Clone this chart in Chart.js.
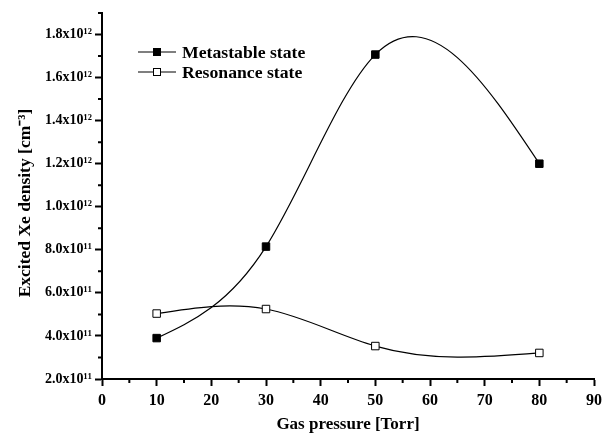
<!DOCTYPE html>
<html>
<head>
<meta charset="utf-8">
<script src="https://cdn.jsdelivr.net/npm/chart.js@4"></script>
<style>
  html, body { margin: 0; padding: 0; background: #fff; }
</style>
</head>
<body>
<canvas id="xeChart" width="612" height="435"></canvas>
<script>
// Gas pressure (Torr)
const pressure = [10, 30, 50, 80];
// Excited Xe density (cm^-3)
const metastable = [3.9e11, 8.15e11, 1.707e12, 1.2e12];
const resonance = [5.04e11, 5.25e11, 3.53e11, 3.21e11];
const seriesNames = ['Metastable state', 'Resonance state'];

// Axis ticks
const xTicks = [0, 10, 20, 30, 40, 50, 60, 70, 80, 90];
const xMinorTicks = [5, 15, 25, 35, 45, 55, 65, 75, 85];
const yTicks = [2e11, 4e11, 6e11, 8e11, 1.0e12, 1.2e12, 1.4e12, 1.6e12, 1.8e12];
const yTickLabels = ['2.0x10¹¹', '4.0x10¹¹', '6.0x10¹¹', '8.0x10¹¹', '1.0x10¹²',
  '1.2x10¹²', '1.4x10¹²', '1.6x10¹²', '1.8x10¹²'];
const yMinorTicks = [3e11, 5e11, 7e11, 9e11, 1.1e12, 1.3e12, 1.5e12, 1.7e12, 1.9e12];
const yTitle = 'Excited Xe density [cm⁻³]';

const serif = "'Liberation Serif', 'Times New Roman', serif";

function toPoints(xs, ys) {
  return xs.map((x, i) => ({ x: x, y: ys[i] }));
}

// Replace Chart.js bezier control points with natural cubic spline ones
const naturalSpline = {
  id: 'naturalSpline',
  beforeDatasetsDraw(chart) {
    chart.data.datasets.forEach((ds, i) => {
      const meta = chart.getDatasetMeta(i);
      const pts = meta.data;
      meta.dataset.updateControlPoints(chart.chartArea, meta.iScale.axis);
      const n = pts.length - 1;
      if (n < 1) return;
      const h = [], s = [];
      for (let k = 0; k < n; k++) {
        h[k] = pts[k + 1].x - pts[k].x;
        s[k] = (pts[k + 1].y - pts[k].y) / h[k];
      }
      const M = new Array(n + 1).fill(0);
      const a = [], b = [], c = [], d = [];
      for (let k = 1; k < n; k++) {
        a[k] = h[k - 1]; b[k] = 2 * (h[k - 1] + h[k]); c[k] = h[k];
        d[k] = 6 * (s[k] - s[k - 1]);
      }
      for (let k = 2; k < n; k++) {
        const w = a[k] / b[k - 1];
        b[k] -= w * c[k - 1];
        d[k] -= w * d[k - 1];
      }
      for (let k = n - 1; k >= 1; k--) {
        M[k] = (d[k] - c[k] * M[k + 1]) / b[k];
      }
      const m = [];
      for (let k = 0; k < n; k++) m[k] = s[k] - h[k] * (2 * M[k] + M[k + 1]) / 6;
      m[n] = s[n - 1] + h[n - 1] * (M[n - 1] + 2 * M[n]) / 6;
      for (let k = 0; k < n; k++) {
        pts[k].cp2x = pts[k].x + h[k] / 3;
        pts[k].cp2y = pts[k].y + m[k] * h[k] / 3;
        pts[k + 1].cp1x = pts[k + 1].x - h[k] / 3;
        pts[k + 1].cp1y = pts[k + 1].y - m[k + 1] * h[k] / 3;
      }
    });
  }
};

// Short minor ticks on both axes, plus the y axis title
const minorTicks = {
  id: 'minorTicks',
  afterDraw(chart) {
    const ctx = chart.ctx;
    const xs = chart.scales.x, ys = chart.scales.y;
    const area = chart.chartArea;
    ctx.save();
    ctx.strokeStyle = '#000';
    ctx.lineWidth = 2;
    ctx.beginPath();
    xMinorTicks.forEach(v => {
      const px = xs.getPixelForValue(v);
      ctx.moveTo(px, area.bottom);
      ctx.lineTo(px, area.bottom + 4);
    });
    yMinorTicks.forEach(v => {
      const py = ys.getPixelForValue(v);
      ctx.moveTo(area.left - 4, py);
      ctx.lineTo(area.left, py);
    });
    ctx.stroke();

    // y title, a little below the plot centre as in the original
    ctx.translate(25, (area.top + area.bottom) / 2 + 7);
    ctx.rotate(-Math.PI / 2);
    ctx.fillStyle = '#000';
    ctx.font = 'bold 17.5px ' + serif;
    ctx.textAlign = 'center';
    ctx.textBaseline = 'middle';
    ctx.fillText(yTitle, 0, 0);
    ctx.restore();
  }
};

// Legend: line with marker in the middle, then label
const legendBox = {
  id: 'legendBox',
  afterDraw(chart) {
    const ctx = chart.ctx;
    chart.data.datasets.forEach((ds, i) => {
      const y = 52 + i * 20;
      ctx.save();
      ctx.strokeStyle = '#000';
      ctx.lineWidth = 1.2;
      ctx.beginPath();
      ctx.moveTo(138, y);
      ctx.lineTo(176, y);
      ctx.stroke();
      ctx.fillStyle = ds.pointBackgroundColor;
      ctx.lineWidth = 1;
      ctx.fillRect(153.5, y - 3.5, 7, 7);
      ctx.strokeRect(153.5, y - 3.5, 7, 7);
      ctx.fillStyle = '#000';
      ctx.font = 'bold 17.7px ' + serif;
      ctx.textBaseline = 'middle';
      ctx.fillText(ds.label, 182, y + 1);
      ctx.restore();
    });
  }
};

const ctx = document.getElementById('xeChart').getContext('2d');
const xeChart = new Chart(ctx, {
  type: 'line',
  data: {
    datasets: [{
      label: seriesNames[0],
      data: toPoints(pressure, metastable),
      borderColor: '#000',
      borderWidth: 1.2,
      tension: 0.4,
      pointStyle: 'rect',
      pointRadius: 5.3,
      pointBorderWidth: 1,
      pointBackgroundColor: '#000',
      pointBorderColor: '#000',
      fill: false
    }, {
      label: seriesNames[1],
      data: toPoints(pressure, resonance),
      borderColor: '#000',
      borderWidth: 1.2,
      tension: 0.4,
      pointStyle: 'rect',
      pointRadius: 5.3,
      pointBorderWidth: 1,
      pointBackgroundColor: '#fff',
      pointBorderColor: '#000',
      fill: false
    }]
  },
  options: {
    responsive: false,
    animation: false,
    layout: { padding: { left: 0, right: 18, top: 13, bottom: 0 } },
    plugins: {
      legend: { display: false },
      tooltip: { enabled: false }
    },
    scales: {
      x: {
        type: 'linear',
        min: 0,
        max: 90,
        afterBuildTicks: (scale) => { scale.ticks = xTicks.map(v => ({ value: v })); },
        afterFit: (scale) => { scale.height = 56; },
        grid: { drawOnChartArea: false, tickLength: 7, tickWidth: 2, tickColor: '#000' },
        border: { color: '#000', width: 2 },
        ticks: {
          color: '#000',
          padding: 5,
          maxRotation: 0,
          font: { family: serif, size: 16, weight: 'bold' },
          callback: (v) => String(v)
        },
        title: {
          display: true,
          text: 'Gas pressure [Torr]',
          color: '#000',
          padding: { top: 0, bottom: 0 },
          font: { family: serif, size: 17, weight: 'bold' }
        }
      },
      y: {
        type: 'linear',
        min: 2e11,
        max: 1.9e12,
        afterBuildTicks: (scale) => { scale.ticks = yTicks.map(v => ({ value: v })); },
        afterFit: (scale) => { scale.width = 102; },
        grid: { drawOnChartArea: false, tickLength: 7, tickWidth: 2, tickColor: '#000' },
        border: { color: '#000', width: 2 },
        ticks: {
          color: '#000',
          padding: 3,
          font: { family: serif, size: 14, weight: 'bold' },
          callback: (v, i) => yTickLabels[i]
        }
      }
    }
  },
  plugins: [naturalSpline, minorTicks, legendBox]
});
</script>
</body>
</html>
